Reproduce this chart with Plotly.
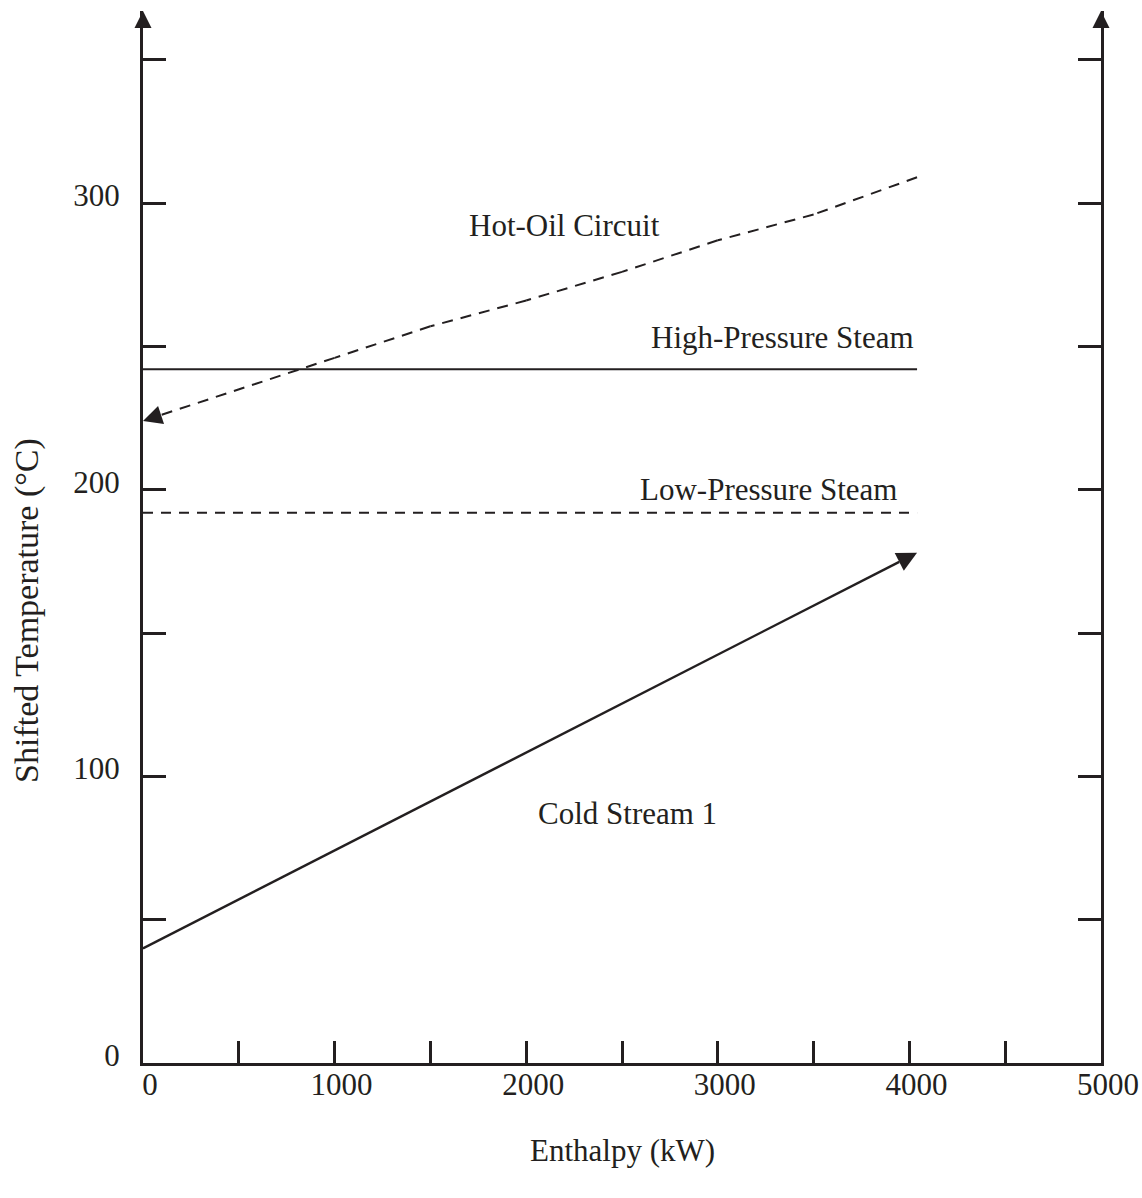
import plotly.graph_objects as go

# Enthalpy (kW) vs shifted temperature (°C)
# hot-oil circuit listed in flow direction (hot end first)
hot_oil_h = [4040, 3500, 3000, 2500, 2000, 1500, 1000, 500, 0]
hot_oil_t = [309, 296, 287, 276, 266, 257, 246, 235, 224]

hp_steam_h = [0, 4040]
hp_steam_t = [242, 242]

lp_steam_h = [0, 4040]
lp_steam_t = [192, 192]

cold1_h = [0, 4040]
cold1_t = [40, 178]

x_tickvals = [0, 500, 1000, 1500, 2000, 2500, 3000, 3500, 4000, 4500, 5000]
x_ticktext = ["0", "", "1000", "", "2000", "", "3000", "", "4000", "", "5000"]
y_tickvals = [0, 50, 100, 150, 200, 250, 300, 350]
y_ticktext = ["0", "", "100", "", "200", "", "300", ""]

X_MAX = 5000
Y_MAX = 367

INK = "#231f20"
FONT = "Liberation Serif, Times New Roman, serif"
FS = 31


def arrow_end_marker(n, size):
    """Arrowhead only on the last point of an n-point line."""
    return dict(symbol=["circle"] * (n - 1) + ["arrow-up"],
                size=[0] * (n - 1) + [size],
                angleref="previous", color=INK, opacity=1,
                line=dict(width=0))


fig = go.Figure()

fig.add_trace(go.Scatter(x=hot_oil_h, y=hot_oil_t, mode="lines+markers",
                         line=dict(color=INK, width=2, dash="11px,8px"),
                         marker=arrow_end_marker(len(hot_oil_h), 19),
                         cliponaxis=False))
fig.add_trace(go.Scatter(x=hp_steam_h, y=hp_steam_t, mode="lines",
                         line=dict(color=INK, width=2)))
fig.add_trace(go.Scatter(x=lp_steam_h, y=lp_steam_t, mode="lines",
                         line=dict(color=INK, width=2, dash="10px,8px")))
fig.add_trace(go.Scatter(x=cold1_h, y=cold1_t, mode="lines+markers",
                         line=dict(color=INK, width=2.4),
                         marker=arrow_end_marker(len(cold1_h), 20),
                         cliponaxis=False))

# arrowheads on top of both vertical axes
fig.add_trace(go.Scatter(x=[0, X_MAX], y=[Y_MAX, Y_MAX], mode="markers",
                         marker=dict(symbol="arrow-up", size=17, color=INK,
                                     opacity=1, line=dict(width=0)),
                         cliponaxis=False))

annotations = []

# stream labels
labels = [
    ("Hot-Oil Circuit", 2200, 292, "center"),
    ("High-Pressure Steam", 4035, 253, "right"),
    ("Low-Pressure Steam", 3945, 200, "right"),
    ("Cold Stream 1", 2530, 87, "center"),
]
for txt, xv, yv, anc in labels:
    annotations.append(dict(x=xv, y=yv, xref="x", yref="y", text=txt,
                            showarrow=False, xanchor=anc, yanchor="middle",
                            font=dict(family=FONT, size=FS, color=INK)))

# axis titles
annotations.append(dict(x=0.5, y=0, xref="paper", yref="paper", yshift=-87,
                        text="Enthalpy (kW)", showarrow=False,
                        xanchor="center", yanchor="middle",
                        font=dict(family=FONT, size=FS, color=INK)))
annotations.append(dict(x=0, y=0.4297, xref="paper", yref="paper", xshift=-116,
                        text="Shifted Temperature (°C)", showarrow=False,
                        textangle=-90, xanchor="center", yanchor="middle",
                        font=dict(family=FONT, size=34, color=INK)))

fig.update_layout(
    width=1142, height=1198,
    margin=dict(l=143, r=41, t=11, b=135, autoexpand=False),
    paper_bgcolor="white", plot_bgcolor="white",
    showlegend=False,
    annotations=annotations,
    font=dict(family=FONT, size=FS, color=INK),
    xaxis=dict(range=[0, X_MAX], tickvals=x_tickvals, ticktext=x_ticktext,
               ticks="inside", ticklen=22, tickwidth=2.5, tickcolor=INK,
               showline=True, linewidth=3, linecolor=INK, mirror=False,
               showgrid=False, zeroline=False, automargin=False,
               ticklabelstandoff=-8, ticklabelshift=7,
               tickfont=dict(family=FONT, size=FS, color=INK)),
    yaxis=dict(range=[0, Y_MAX], tickvals=y_tickvals, ticktext=y_ticktext,
               ticks="inside", ticklen=23, tickwidth=2.5, tickcolor=INK,
               showline=True, linewidth=3, linecolor=INK, mirror="ticks",
               showgrid=False, zeroline=False, automargin=False,
               ticklabelstandoff=14, ticklabelshift=-8,
               tickfont=dict(family=FONT, size=FS, color=INK)),
)

fig.write_html("out.html")
